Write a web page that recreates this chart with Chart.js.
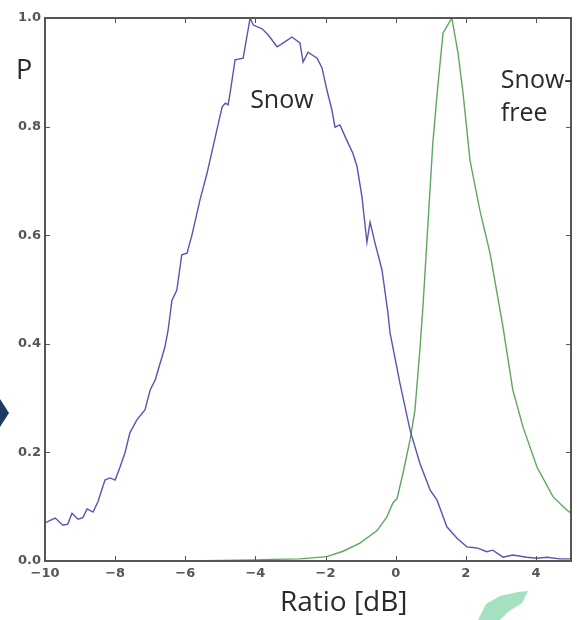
<!DOCTYPE html>
<html>
<head>
<meta charset="utf-8">
<script src="https://cdn.jsdelivr.net/npm/chart.js@4/dist/chart.umd.min.js"></script>
<style>
html,body{margin:0;padding:0;background:#fff;}
#wrap{width:578px;height:620px;}
</style>
</head>
<body>
<div id="wrap"><canvas id="c" width="578" height="620"></canvas></div>
<script>
// ---- data ----
const snowX = [-10.0,-9.85,-9.71,-9.49,-9.35,-9.23,-9.06,-8.92,-8.80,-8.63,-8.49,-8.29,-8.15,-8.00,-7.86,-7.72,-7.58,-7.38,-7.15,-7.00,-6.86,-6.58,-6.49,-6.38,-6.24,-6.10,-5.95,-5.81,-5.58,-5.38,-4.95,-4.86,-4.78,-4.72,-4.58,-4.35,-4.15,-4.06,-3.81,-3.64,-3.38,-3.16,-2.96,-2.73,-2.64,-2.50,-2.24,-2.10,-1.96,-1.82,-1.73,-1.59,-1.36,-1.22,-1.10,-0.96,-0.82,-0.73,-0.59,-0.39,-0.22,-0.16,0.12,0.41,0.69,0.98,1.18,1.46,1.75,2.03,2.32,2.60,2.77,3.06,3.34,3.74,4.03,4.31,4.68,5.0];
const snowP = [0.070,0.075,0.079,0.066,0.068,0.088,0.077,0.080,0.096,0.090,0.109,0.149,0.153,0.149,0.173,0.199,0.236,0.260,0.278,0.315,0.333,0.394,0.425,0.480,0.499,0.564,0.567,0.600,0.665,0.714,0.836,0.843,0.840,0.862,0.923,0.926,1.000,0.987,0.980,0.969,0.947,0.956,0.965,0.954,0.919,0.937,0.926,0.908,0.867,0.831,0.799,0.803,0.770,0.751,0.726,0.670,0.587,0.624,0.586,0.536,0.457,0.420,0.328,0.241,0.180,0.131,0.112,0.063,0.042,0.026,0.024,0.017,0.020,0.007,0.011,0.007,0.005,0.007,0.004,0.004];
const freeX = [-10,-6,-5,-4,-3.5,-2.73,-1.96,-1.5,-1.02,-0.53,-0.25,-0.08,0.04,0.21,0.41,0.55,0.69,0.78,1.06,1.20,1.35,1.60,1.78,1.92,2.12,2.40,2.69,2.89,3.06,3.34,3.63,4.03,4.49,4.88,5.0];
const freeP = [0,0,0.001,0.002,0.003,0.004,0.008,0.018,0.033,0.056,0.081,0.107,0.115,0.162,0.223,0.278,0.389,0.470,0.770,0.873,0.972,1.000,0.935,0.862,0.738,0.646,0.567,0.494,0.431,0.315,0.247,0.173,0.118,0.094,0.088];
const xTicks = [-10,-8,-6,-4,-2,0,2,4];
const yTicks = [0.0,0.2,0.4,0.6,0.8,1.0];
const xTitle = "Ratio [dB]";
const yTitle = "P";
const labelSnow = "Snow";
const labelFree = ["Snow-","free"];

const toPts = (xs, ys) => xs.map((x, i) => ({x: x, y: ys[i]}));
const fmtMinus = v => (v < 0 ? "\u2212" + Math.abs(v) : String(v));

const decor = {
  id: 'decor',
  afterDatasetsDraw(chart) {
    const ctx = chart.ctx;
    const a = chart.chartArea;
    const xs = chart.scales.x, ys = chart.scales.y;
    ctx.save();
    // inward ticks
    ctx.strokeStyle = '#555';
    ctx.lineWidth = 1;
    ctx.beginPath();
    xTicks.forEach(v => {
      const p = Math.round(xs.getPixelForValue(v)) + 0.5;
      ctx.moveTo(p, a.bottom); ctx.lineTo(p, a.bottom - 5);
      ctx.moveTo(p, a.top); ctx.lineTo(p, a.top + 5);
    });
    yTicks.forEach(v => {
      const p = Math.round(ys.getPixelForValue(v)) + 0.5;
      ctx.moveTo(a.left, p); ctx.lineTo(a.left + 5, p);
      ctx.moveTo(a.right, p); ctx.lineTo(a.right - 5, p);
    });
    ctx.stroke();
    // frame
    ctx.strokeStyle = '#555';
    ctx.lineWidth = 2;
    ctx.strokeRect(a.left, a.top, a.right - a.left, a.bottom - a.top);
    // annotations
    ctx.fillStyle = '#2a2a2a';
    ctx.textBaseline = 'alphabetic';
    ctx.textAlign = 'left';
    ctx.font = '25px "Open Sans", sans-serif';
    ctx.fillText(labelSnow, xs.getPixelForValue(-4.15), ys.getPixelForValue(0.835));
    ctx.fillText(labelFree[0], xs.getPixelForValue(3.0), ys.getPixelForValue(0.872));
    ctx.fillText(labelFree[1], xs.getPixelForValue(3.0), ys.getPixelForValue(0.81));
    ctx.font = '27px "Open Sans", sans-serif';
    ctx.fillText(yTitle, 16, ys.getPixelForValue(0.888));
    ctx.font = '28px "Open Sans", sans-serif';
    ctx.fillText(xTitle, xs.getPixelForValue(-3.3), a.bottom + 50);
    // slide decorations (cropped arrow, green shape)
    ctx.fillStyle = '#1f3a60';
    ctx.beginPath();
    ctx.moveTo(0, 399); ctx.lineTo(9, 413); ctx.lineTo(0, 427); ctx.closePath();
    ctx.fill();
    ctx.fillStyle = 'rgba(90,200,140,0.55)';
    ctx.beginPath();
    ctx.moveTo(478, 620); ctx.lineTo(486, 604); ctx.lineTo(500, 596);
    ctx.lineTo(518, 592); ctx.lineTo(528, 591); ctx.lineTo(522, 603);
    ctx.lineTo(508, 612); ctx.lineTo(500, 620); ctx.closePath();
    ctx.fill();
    ctx.restore();
  }
};

new Chart(document.getElementById('c'), {
  type: 'line',
  data: {
    datasets: [
      { label: 'Snow', data: toPts(snowX, snowP), borderColor: '#5656b2', borderWidth: 1.4, pointRadius: 0, tension: 0, fill: false },
      { label: 'Snow-free', data: toPts(freeX, freeP), borderColor: '#5ea85e', borderWidth: 1.4, pointRadius: 0, tension: 0, fill: false }
    ]
  },
  options: {
    responsive: false,
    animation: false,
    events: [],
    layout: { padding: { left: 0, right: 7, top: 18, bottom: 0 } },
    plugins: { legend: { display: false }, tooltip: { enabled: false } },
    scales: {
      x: {
        type: 'linear', min: -10, max: 5,
        grid: { display: false, drawTicks: false },
        border: { display: false },
        afterBuildTicks: s => { s.ticks = xTicks.map(v => ({ value: v })); },
        afterFit: s => { s.height = 59; },
        ticks: { padding: 5, color: '#555', font: { family: 'DejaVu Sans', size: 13, weight: 'bold' }, callback: v => fmtMinus(v) }
      },
      y: {
        type: 'linear', min: 0, max: 1,
        grid: { display: false, drawTicks: false },
        border: { display: false },
        afterBuildTicks: s => { s.ticks = yTicks.map(v => ({ value: v })); },
        afterFit: s => { s.width = 45; },
        ticks: { padding: 4, color: '#555', font: { family: 'DejaVu Sans', size: 13, weight: 'bold' }, callback: v => Number(v).toFixed(1) }
      }
    }
  },
  plugins: [decor]
});
</script>
</body>
</html>
